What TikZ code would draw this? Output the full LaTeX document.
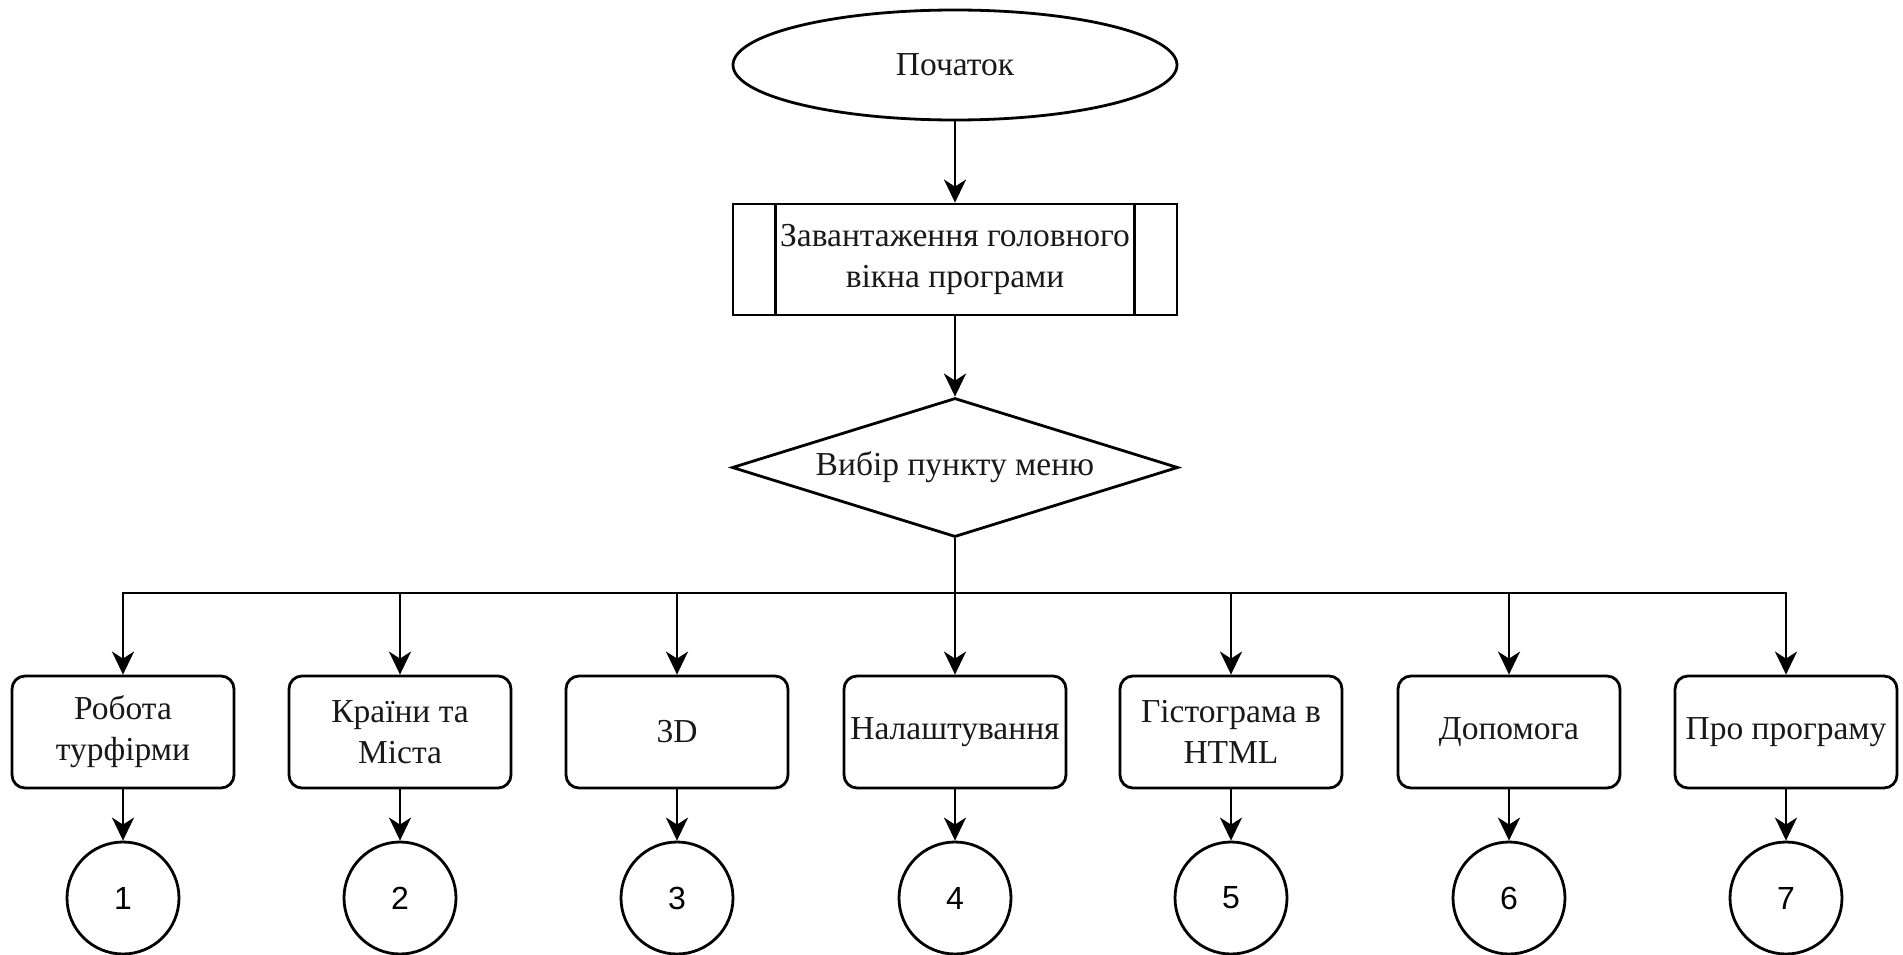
\documentclass[tikz,border=0pt]{standalone}
\usepackage{fontspec}
\setmainfont{Liberation Serif}
\newfontfamily\numfont{Liberation Sans}
\usetikzlibrary{shapes.geometric,arrows.meta}
\begin{document}
\begin{tikzpicture}[x=1pt,y=-1pt,
  every path/.style={line width=2.8pt},
  txt/.style={font=\fontsize{33.5}{41}\selectfont, align=center, text=black!90},
  arr/.style={draw, -{Stealth[length=23pt,width=22pt,inset=7pt]}},
  startnode/.style={draw, ellipse, minimum width=444pt, minimum height=110pt, inner sep=0pt, txt},
  procnode/.style={draw, rectangle, minimum width=444pt, minimum height=111pt, inner sep=0pt, txt},
  decnode/.style={draw, diamond, shape aspect=3.2, minimum width=446pt, minimum height=139pt, inner sep=0pt, txt},
  itemnode/.style={draw, rectangle, rounded corners=13pt, minimum width=222pt, minimum height=112pt, inner sep=0pt, txt},
  numnode/.style={draw, circle, minimum size=112pt, inner sep=0pt, font=\numfont\fontsize{32}{38}\selectfont}
]
\useasboundingbox (0,0) rectangle (1903,955);

\node[startnode] (start) at (955,65) {Початок};
\node[procnode] (proc) at (955,259.5) {Завантаження головного\\вікна програми};
\draw ([xshift=44pt]proc.north west) -- ([xshift=44pt]proc.south west);
\draw ([xshift=-44pt]proc.north east) -- ([xshift=-44pt]proc.south east);
\node[decnode] (dec) at (955,467.5) {Вибір пункту меню};

\draw[arr] (start) -- (proc);
\draw[arr] (proc) -- (dec);

\coordinate (bus) at (955,593);

\node[itemnode] (b1) at (123,732) {Робота\\турфірми};
\node[itemnode] (b2) at (400,732) {Країни та\\Міста};
\node[itemnode] (b3) at (677,732) {3D};
\node[itemnode] (b4) at (955,732) {Налаштування};
\node[itemnode] (b5) at (1231,732) {Гістограма в\\HTML};
\node[itemnode] (b6) at (1509,732) {Допомога};
\node[itemnode] (b7) at (1786,732) {Про програму};

\foreach \i in {1,...,7}{
  \node[numnode] (c\i) at (b\i |- 0,898) {\i};
  \draw[arr] (dec.south) -- (bus) -| (b\i.north);
  \draw[arr] (b\i) -- (c\i);
}
\end{tikzpicture}
\end{document}
